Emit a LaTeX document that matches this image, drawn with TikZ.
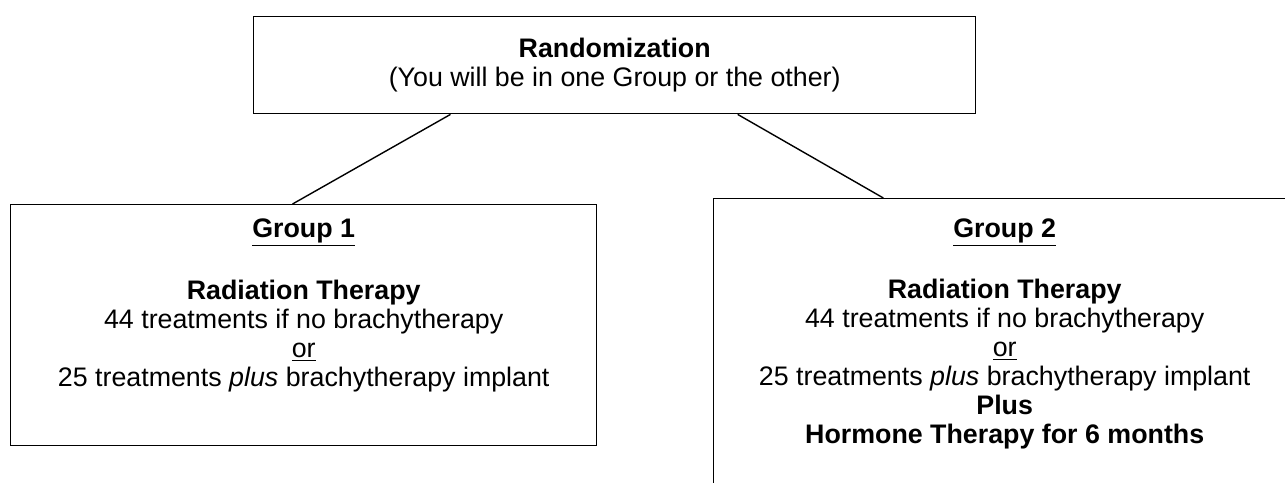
\documentclass[tikz,border=0pt]{standalone}
\usepackage{fontspec}
\setmainfont{Liberation Sans}
\usetikzlibrary{positioning, calc}

\begin{document}
\begin{tikzpicture}[x=0.5pt, y=-0.5pt,
  panel/.style={draw, line width=0.7pt, inner sep=0pt, anchor=north west},
  body/.style={align=center, inner sep=0pt, font=\fontsize{13.4pt}{14.5pt}\selectfont},
  link/.style={line width=0.7pt}
]
  \useasboundingbox (0,0) rectangle (1285,482);

  % randomization box
  \node[panel, body, minimum width=361pt, minimum height=48.5pt] (rand) at (253,16) {
    \textbf{Randomization}\\
    (You will be in one Group or the other)
  };

  % the two groups
  \node[panel, minimum width=293pt, minimum height=120.5pt] (grp1) at (10,204) {};
  \node[body, below=7pt of grp1.north] (grp1text) {
    \textbf{\underline{Group 1}}\\[16.5pt]
    \textbf{Radiation Therapy}\\
    44 treatments if no brachytherapy\\
    \underline{or}\\
    25 treatments \textit{plus} brachytherapy implant
  };

  \node[panel, minimum width=291pt, minimum height=150pt] (grp2) at (713,198) {};
  \node[body, below=10pt of grp2.north] (grp2text) {
    \textbf{\underline{Group 2}}\\[16pt]
    \textbf{Radiation Therapy}\\
    44 treatments if no brachytherapy\\
    \underline{or}\\
    25 treatments \textit{plus} brachytherapy implant\\
    \textbf{Plus}\\
    \textbf{Hormone Therapy for 6 months}
  };

  \draw[link] ($(rand.south west)!0.273!(rand.south east)$) -- ($(grp1.north west)!0.481!(grp1.north east)$);
  \draw[link] ($(rand.south west)!0.670!(rand.south east)$) -- ($(grp2.north west)!0.292!(grp2.north east)$);
\end{tikzpicture}
\end{document}
